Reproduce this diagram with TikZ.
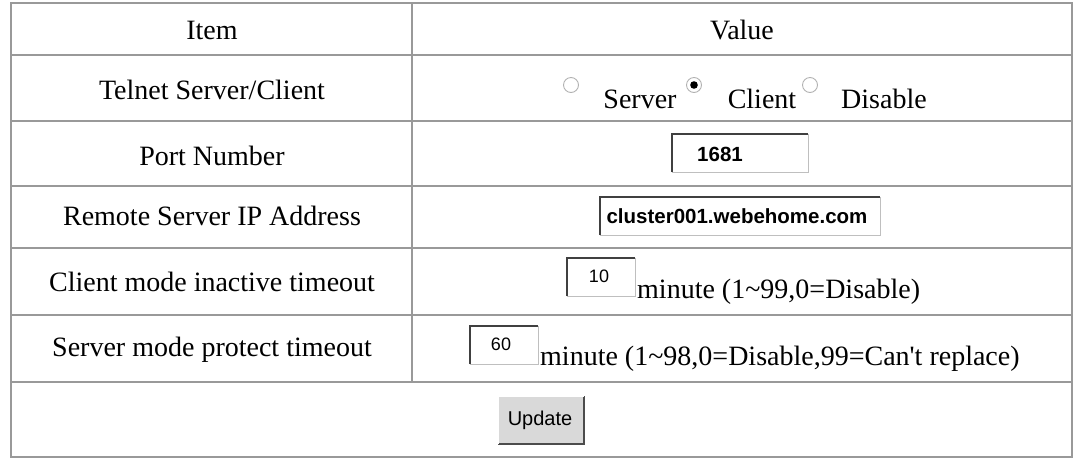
\documentclass[tikz,border=0pt]{standalone}
\usepackage{fontspec}
\setmainfont{Liberation Serif}
\newfontfamily\sans{Liberation Sans}
\begin{document}
\begin{tikzpicture}[x=1pt,y=-1pt,
  grid/.style={draw=gray!80,line width=1.6pt},
  lbl/.style={font=\fontsize{28}{30}\selectfont,inner sep=0pt},
  val/.style={font=\sans\bfseries\fontsize{20.5}{22}\selectfont,inner sep=0pt},
  small/.style={font=\sans\fontsize{18}{20}\selectfont,inner sep=0pt},
  radio/.style={circle,draw=gray!60,line width=0.9pt,minimum size=15pt,inner sep=0pt,fill=white}]
\useasboundingbox (0,0) rectangle (1079,459);
% table
\draw[grid] (11,3) rectangle (1072,457);
\foreach \y in {55,121,186,248,315,382} \draw[grid] (11,\y) -- (1072,\y);
\draw[grid] (412,3) -- (412,382);
% headers
\node[lbl] (h1) at (212,30) {Item};
\node[lbl] (h2) at (742,30) {Value};
\node[lbl] (r1) at (212,90) {Telnet Server/Client};
\node[lbl] (r2) at (212,156) {Port Number};
\node[lbl] (r3) at (212,216) {Remote Server IP Address};
\node[lbl] (r4) at (212,282) {Client mode inactive timeout};
\node[lbl] (r5) at (212,350) {Server mode protect timeout};
% radios
\node[radio] (ra) at (571,85) {};
\node[radio] (rb) at (694,85) {};
\fill (rb) circle (3.8pt);
\node[radio] (rc) at (810,85) {};
\node[lbl] (ls) at (640,99) {Server};
\node[lbl] (lc) at (762,99) {Client};
\node[lbl] (ld) at (884,99) {Disable};
% text boxes
\newcommand\tbox[4]{%
  \fill[white] (#1,#2) rectangle (#3,#4);
  \draw[gray!50,line width=1pt] (#3,#2) -- (#3,#4) -- (#1,#4);
  \draw[black!75,line width=1.6pt] (#1,#4) -- (#1,#2) -- (#3,#2);}
\tbox{672}{134}{808}{172}
\node[val] (v1) at (720,154) {1681};
\tbox{600}{197}{880}{235}
\node[val] (v2) at (737,216) {cluster001.webehome.com};
\tbox{567}{258}{635}{296}
\node[small] (v3) at (599,276) {10};
\node[lbl,anchor=west] (m1) at (637,292) {minute (1\textasciitilde99,0=Disable)};
\tbox{470}{326}{538}{364}
\node[small] (v4) at (501,344) {60};
\node[lbl,anchor=west] (m2) at (540,359) {minute (1\textasciitilde98,0=Disable,99=Can\textquotesingle t replace)};
% button
\fill[gray!30] (498,396) rectangle (584,444);
\draw[black!70,line width=1.5pt] (584,396) -- (584,444) -- (498,444);
\draw[white,line width=1pt] (498,444) -- (498,396) -- (584,396);
\node[font=\sans\fontsize{20}{22}\selectfont,inner sep=0pt] (up) at (540,420) {Update};
\end{tikzpicture}
\end{document}
